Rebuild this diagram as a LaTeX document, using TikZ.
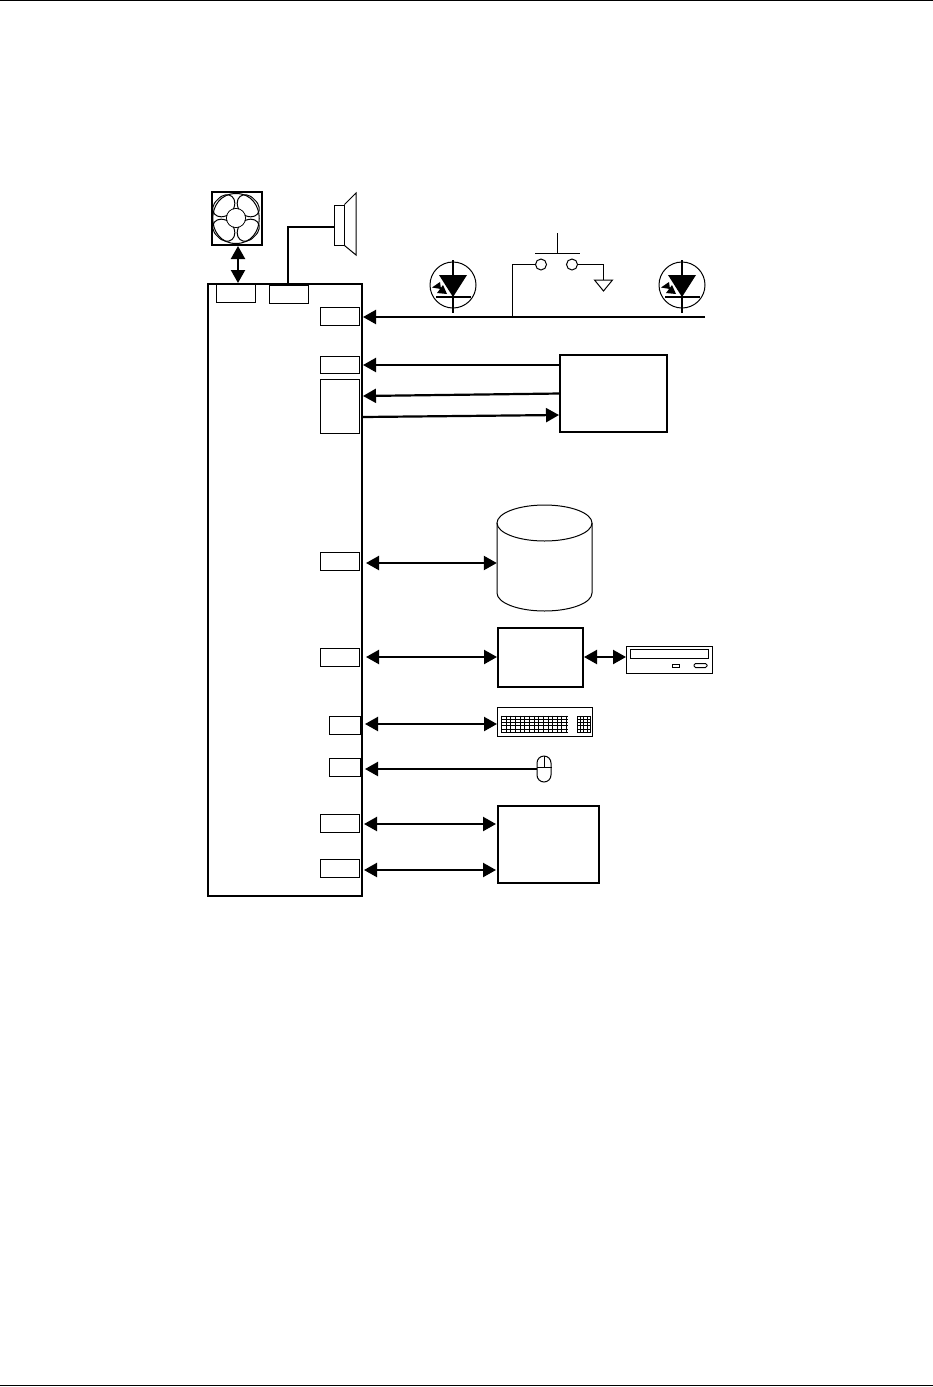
\documentclass[tikz,border=0pt]{standalone}
\usepackage{xcolor}
\usepackage{tikz}
\usetikzlibrary{arrows.meta, positioning}

\begin{document}
\begin{tikzpicture}[
    x=1pt, y=-1pt,
    >={Triangle[length=13pt, width=14pt]},
    port/.style={draw, inner sep=0pt, line width=1pt, minimum width=39pt, minimum height=18pt},
    unitbox/.style={draw, inner sep=0pt, line width=2pt},
    thinbox/.style={draw, inner sep=0pt, line width=1pt},
    lnk/.style={line width=2.2pt},
    part/.style={line width=1pt}
  ]
  \useasboundingbox (0,0) rectangle (933,1387);
  \coordinate (topl) at (0,0.5);
  \coordinate (topr) at (933,0.5);
  \coordinate (botl) at (0,1385.5);
  \coordinate (botr) at (933,1385.5);
  \draw[line width=1pt] (topl) -- (topr);
  \draw[line width=1pt] (botl) -- (botr);

  % main board and its ports
  \node[unitbox, minimum width=154pt, minimum height=612pt] (board) at (285,590) {};
  \node[port] (fanport) at (235.5,293) {};
  \node[port] (spkport) at (288.5,294) {};
  \node[port] (ledport) at (340,316) {};
  \node[port, minimum height=17pt] (rxport) at (340,364.5) {};
  \node[port, minimum height=54pt] (lineport) at (340,406) {};
  \node[port] (diskport) at (340,561) {};
  \node[port] (cdport) at (340,657.5) {};
  \node[port, minimum width=31pt] (kbport) at (344.5,725) {};
  \node[port, minimum width=31pt] (mouseport) at (344.5,767.5) {};
  \node[port] (auxa) at (340,823.5) {};
  \node[port] (auxb) at (340,868) {};

  % units on the right
  \node[unitbox, minimum width=107pt, minimum height=77pt] (serial) at (613.5,393.5) {};
  \node[unitbox, minimum width=85pt, minimum height=59pt] (cdctl) at (540.5,657.5) {};
  \node[unitbox, minimum width=101pt, minimum height=77pt] (monitor) at (548.5,844.5) {};
  \node[inner sep=0pt, minimum width=95pt, minimum height=106pt] (disk) at (544.5,558) {};
  \node[thinbox, minimum width=86pt, minimum height=27pt] (cdrom) at (669.5,659.5) {};
  \node[thinbox, minimum width=95pt, minimum height=29pt] (keyb) at (545,721.5) {};
  \node[unitbox, minimum width=50pt, minimum height=53pt] (fan) at (237,218.5) {};
  \node[thinbox, minimum width=14pt, minimum height=26pt, rounded corners=7pt] (mouse) at (544,769) {};
  \node[thinbox, minimum width=10pt, minimum height=40pt] (spk) at (339,225) {};

  % disk
  \draw[part] (497,523) -- (497,593) arc[start angle=180, end angle=0, x radius=47.5, y radius=18] -- (592,523);
  \draw[part] (544.5,523) ellipse[x radius=47.5, y radius=18];

  % fan
  \draw[part] (236,218) circle[radius=9.5];
  \draw[part] (236,193.5) .. controls (267,193.5) and (267,243.5) .. (236,243.5)
              .. controls (205,243.5) and (205,193.5) .. (236,193.5);
  \foreach \a in {45,135,225,315} {
    \draw[part, rotate around={\a:(236,218)}] (243,218) .. controls (246,200) and (263,203) .. (262,218)
          .. controls (263,233) and (246,236) .. (243,218);
  }
  \fill[white] (236,218) circle[radius=9];

  % speaker
  \draw[part] (spk.north east) -- (356,193) -- (356,255) -- (spk.south east);
  \draw[lnk] ([xshift=-0.5pt]spkport.north) -- (288,227) -- (spk.west |- 0,227);

  % lamps
  \foreach \cx/\nm in {453/leda, 682/ledb} {
    \node[circle, draw, part, inner sep=0pt, minimum size=46pt] (\nm) at (\cx,285) {};
    \fill (\cx-14,275) -- (\cx+14,275) -- (\cx,297) -- cycle;
    \draw[line width=1.4pt] (\cx,260) -- (\cx,313);
    \draw[line width=1.4pt] (\cx-17,297) -- (\cx+18,297);
    \fill (\cx-13,282) -- (\cx-21,287.5) -- (\cx-12,289) -- cycle;
    \fill (\cx-10,285) -- (\cx-16,293) -- (\cx-6,294) -- cycle;
  }

  % push button
  \node[circle, draw, part, inner sep=0pt, minimum size=11pt] (swa) at (541,264.5) {};
  \node[circle, draw, part, inner sep=0pt, minimum size=11pt] (swb) at (572,264.5) {};
  \coordinate (swbarl) at (535,253.5);
  \coordinate (swbarr) at (580,253.5);
  \coordinate (swtop) at (557.5,233);
  \coordinate (swmid) at (557.5,253);
  \coordinate (gnd) at (603.5,280);
  \coordinate (tap) at (512.5,317);
  \draw[part] (swbarl) -- (swbarr);
  \draw[part] (swtop) -- (swmid);
  \draw[part] (tap) -- (512.5,264.5) -- (swa.west);
  \draw[part] (swb.east) -- (603.5,264.5) -- (gnd);
  \draw[part] (594.5,280) -- (612.5,280) -- (603.5,291) -- cycle;

  % cd drive details
  \draw[part] (630.5,649.5) rectangle (708.5,658.5);
  \draw[part] (672,664.5) rectangle (679,667.5);
  \draw[part, rounded corners=1.5pt] (694,663.5) rectangle (707,667.5);

  % keyboard keys
  \foreach \i in {0,...,14} \draw[line width=0.8pt] (501.5+\i*4.64,715.5) -- (501.5+\i*4.64,733);
  \foreach \j in {0,...,5} \draw[line width=0.8pt] (501,716.5+\j*3.1) -- (567.5,716.5+\j*3.1);
  \foreach \i in {0,...,4} \draw[line width=0.8pt] (577+\i*3.3,716) -- (577+\i*3.3,732.5);
  \foreach \j in {0,...,5} \draw[line width=0.8pt] (577,716.5+\j*3.1) -- (590.5,716.5+\j*3.1);

  % mouse buttons
  \draw[line width=0.8pt] (mouse.west |- 0,767) -- (mouse.east |- 0,767);
  \draw[line width=0.8pt] (mouse.north) -- (544,767);

  % links
  \coordinate (busend) at (705,317);
  \coordinate (txa) at (363,396);
  \coordinate (txb) at (560,393.5);
  \coordinate (rxa) at (363,417);
  \coordinate (rxb) at (559,415);
  \draw[lnk, <->] ([xshift=1pt]fan.south) -- ([xshift=1pt]fan.south |- board.north);
  \draw[lnk, ->] (busend) -- (board.east |- busend);
  \draw[lnk, ->] (serial.west |- 0,365) -- (board.east |- 0,365);
  \draw[lnk, ->] (txb) -- (txa);
  \draw[lnk, ->] (rxa) -- (rxb);
  \draw[lnk, <->] ([xshift=3pt]board.east |- 0,563) -- (disk.west |- 0,563);
  \draw[lnk, <->] ([xshift=3pt]board.east |- 0,657) -- (cdctl.west |- 0,657);
  \draw[lnk, <->] (cdctl.east |- 0,657) -- (cdrom.west |- 0,657);
  \draw[lnk, <->] ([xshift=2pt]board.east |- 0,724) -- (keyb.west |- 0,724);
  \draw[lnk, ->] (mouse.west |- 0,769) -- ([xshift=2pt]board.east |- 0,769);
  \draw[lnk, <->] ([xshift=1pt]board.east |- 0,824) -- ([xshift=-1pt]monitor.west |- 0,824);
  \draw[lnk, <->] ([xshift=1pt]board.east |- 0,870) -- ([xshift=-1pt]monitor.west |- 0,870);
\end{tikzpicture}
\end{document}
